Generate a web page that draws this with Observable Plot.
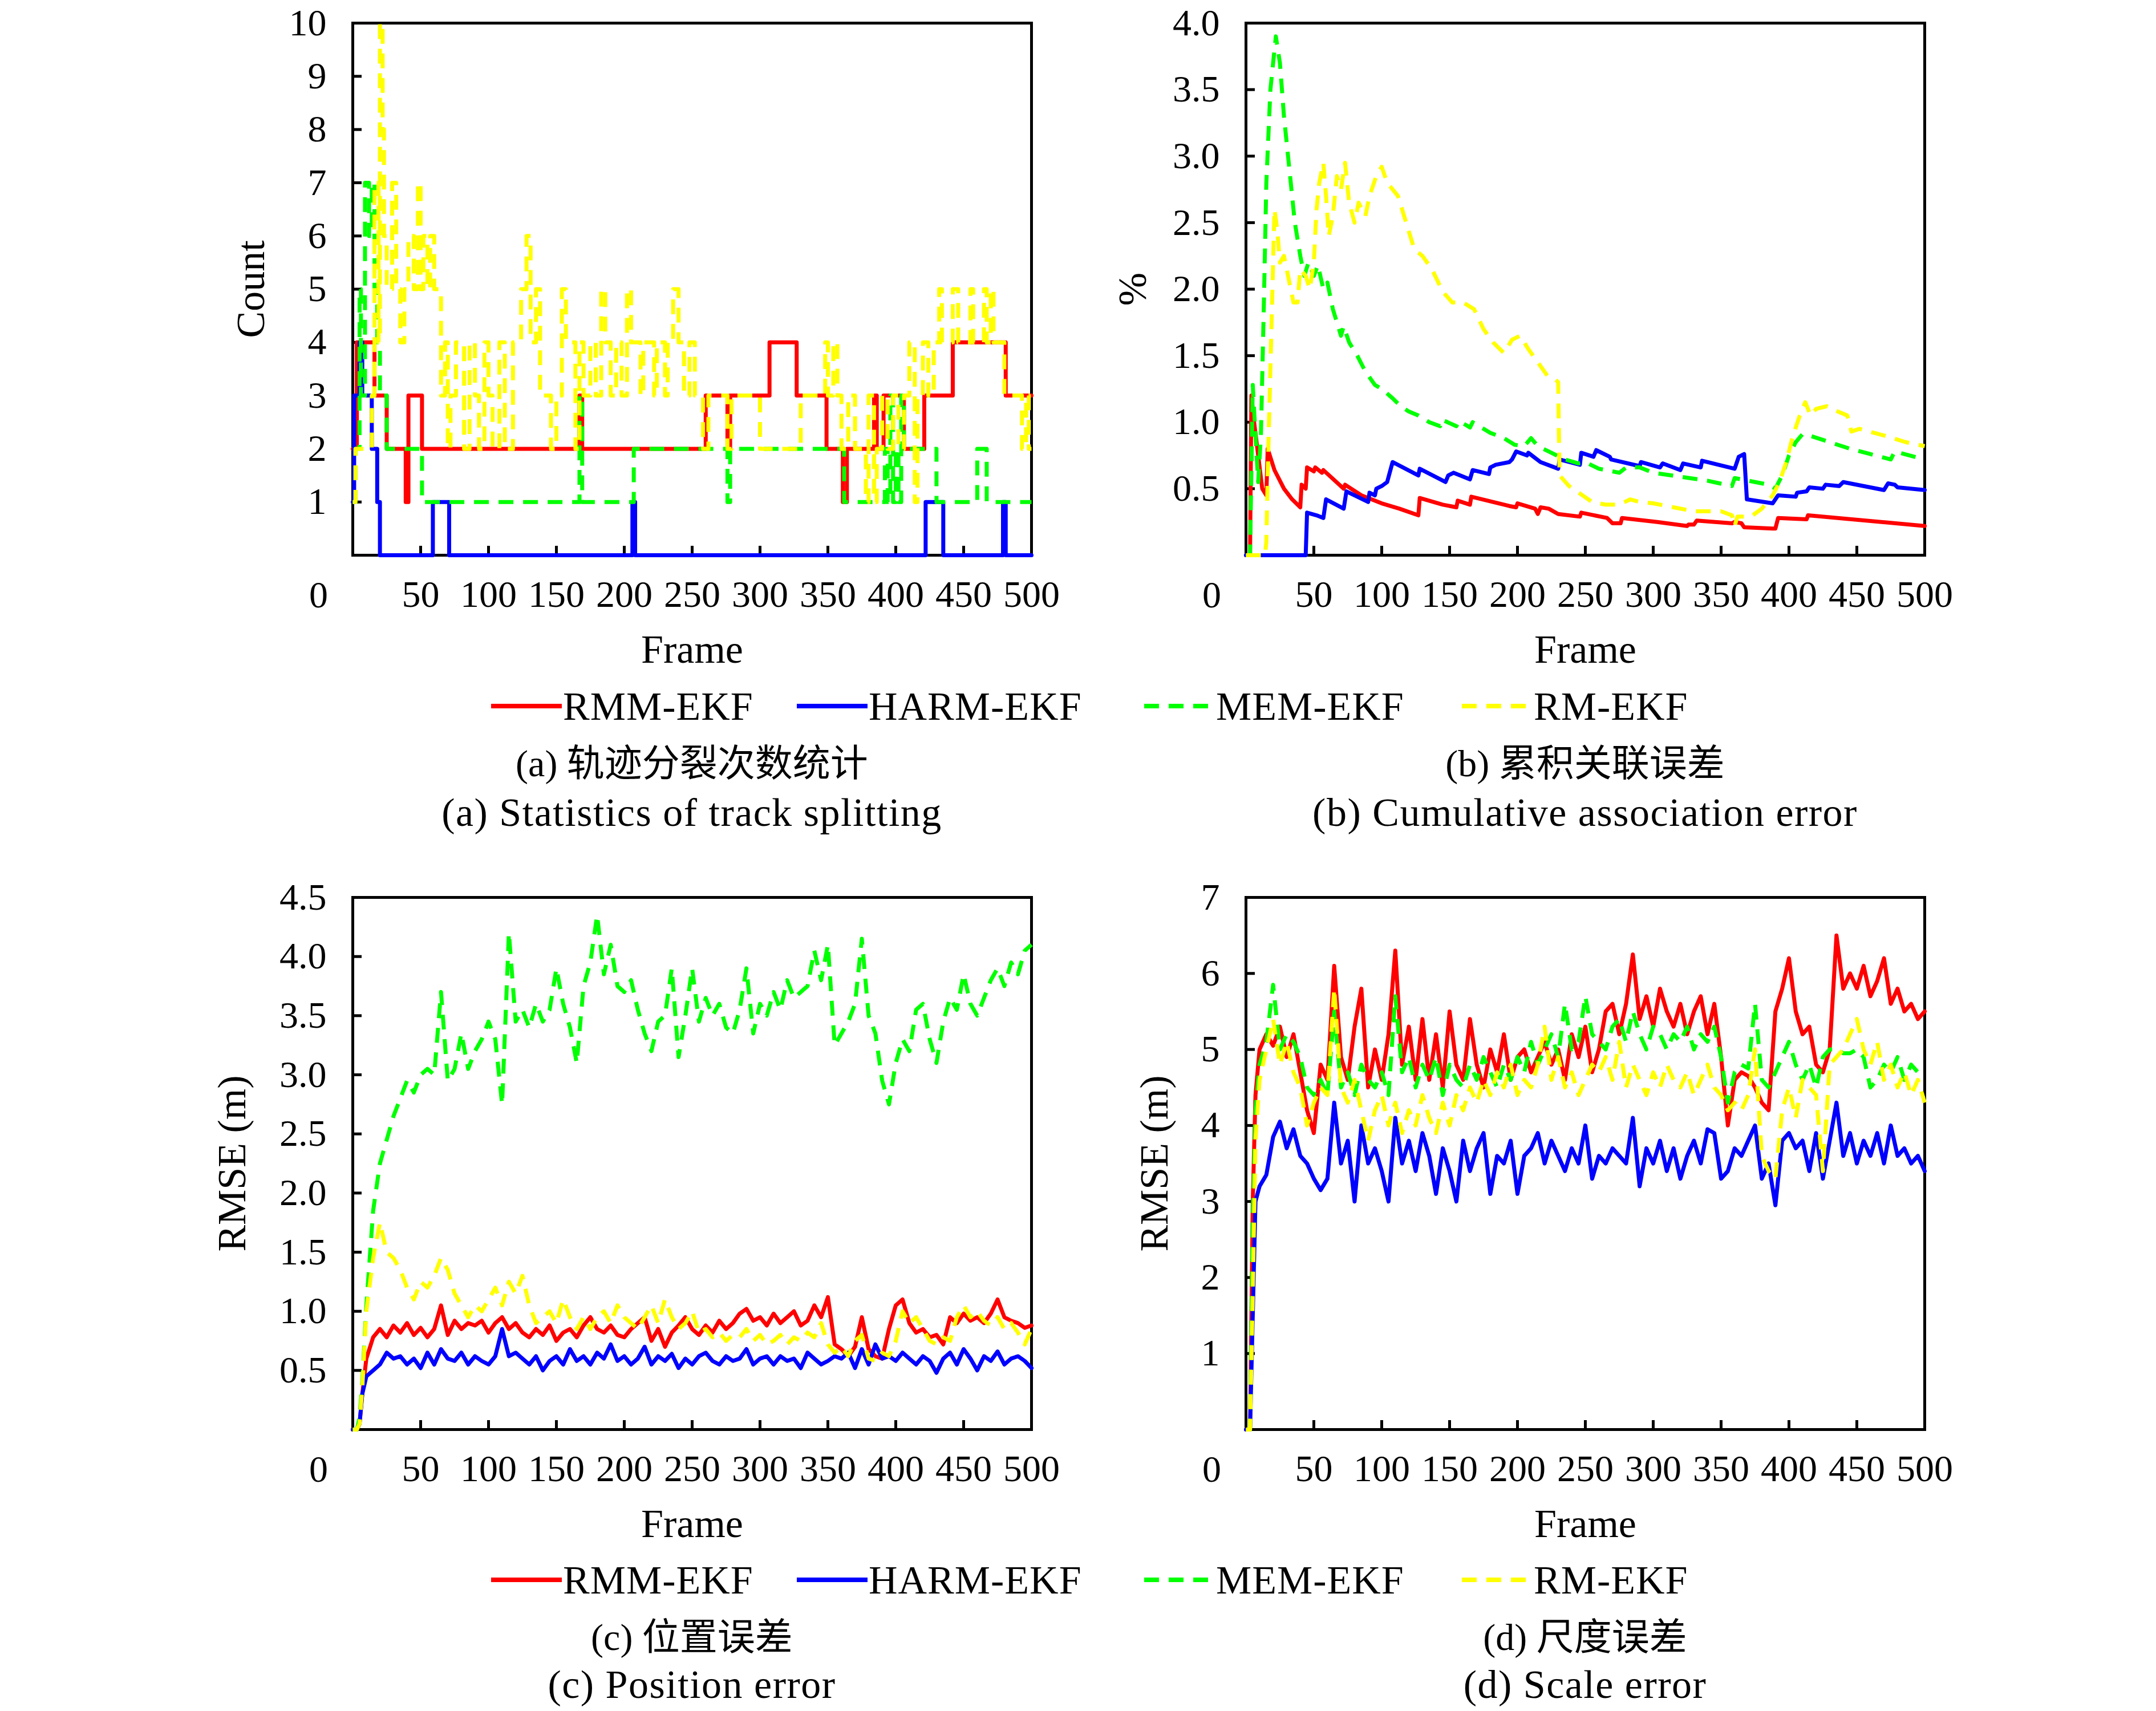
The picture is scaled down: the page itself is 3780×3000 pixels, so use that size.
<!DOCTYPE html>
<html><head><meta charset="utf-8">
<script src="https://cdn.jsdelivr.net/npm/d3@7"></script>
<script src="https://cdn.jsdelivr.net/npm/@observablehq/plot@0.6"></script>
<style>
body{margin:0;background:#fff;}
#root{position:relative;width:3780px;height:3000px;background:#fff;overflow:hidden;}
</style></head><body><div id="root"></div>
<script>
// ---------- series meta ----------
const seriesNames = ["RMM-EKF","HARM-EKF","MEM-EKF","RM-EKF"];
const seriesColors = ["#ff0000","#0000ff","#00ff00","#ffff00"];
const seriesDashed = [false,false,true,true];

// ---------- axes ticks ----------
const xLabels = [50,100,150,200,250,300,350,400,450,500];
const xTickInner = [50,100,150,200,250,300,350,400,450];
const aYLabels = [1,2,3,4,5,6,7,8,9,10];
const aYInner = [1,2,3,4,5,6,7,8,9];
const bYLabels = [0.5,1.0,1.5,2.0,2.5,3.0,3.5,4.0];
const bYInner = [0.5,1.0,1.5,2.0,2.5,3.0,3.5];
const cYLabels = [0.5,1.0,1.5,2.0,2.5,3.0,3.5,4.0,4.5];
const cYInner = [0.5,1.0,1.5,2.0,2.5,3.0,3.5,4.0];
const dYLabels = [1,2,3,4,5,6,7];
const dYInner = [1,2,3,4,5,6];

// ---------- (a) track splitting count: [frame, value] change points ----------
const aRedF = [0,3,16,25,39,41,51,167,169,260,276,278,307,327,349,361,364,384,386,391,406,421,442,481,500];
const aRedV = [2,4,3,2,1,3,2,3,2,3,2,3,4,3,2,1,2,3,2,3,2,3,4,3,3];
const aBlueF = [0,1,5,7,14,18,20,59,71,206,208,422,435,479,481,500];
const aBlueV = [1,3,4,3,2,1,0,1,0,1,0,1,0,1,0,0];
const aGreenF = [0,2,5,6,9,12,14,16,18,20,25,51,167,169,207,276,278,362,392,394,396,398,400,402,404,406,430,460,467,500];
const aGreenV = [1,2,5,3,7,6,7,5,4,3,2,1,3,1,2,1,2,1,2,1,3,1,2,1,3,2,1,2,1,1];
const aYellowF = [0,2,14,16,19,20,22,23,25,29,32,35,38,41,45,48,50,52,55,57,60,65,68,70,72,76,82,86,90,93,97,100,103,108,112,118,124,128,131,135,138,146,150,154,157,164,167,170,175,179,183,186,190,194,198,202,205,212,214,222,224,230,232,236,240,244,248,252,258,262,276,279,300,330,348,350,354,357,360,365,370,378,380,384,386,390,394,398,402,406,410,414,416,420,424,428,432,434,442,446,455,457,465,467,470,472,480,493,496,498,500];
const aYellowV = [1,2,3,7,4,10,8,6,5,7,5,4,5,6,5,7,5,6,5,6,5,3,4,2,3,4,2,4,3,2,4,3,2,4,2,4,5,6,4,5,3,2,3,5,4,2,4,3,4,3,5,4,3,4,3,5,4,3,4,3,4,3,4,5,4,3,4,3,2,3,2,3,2,3,4,3,4,3,2,3,2,1,3,1,2,3,2,3,2,3,4,1,3,4,3,4,5,4,5,4,5,4,5,4,5,4,3,2,3,2,2];

// ---------- (b) cumulative association error (%) ----------
const bRed = [[0,0],[3,0],[4,1.2],[6,1.0],[12,0.5],[15,0.45],[16,0.8],[21,0.64],[28,0.5],[34,0.42],[40,0.36],[41,0.53],[44,0.5],[45,0.66],[50,0.63],[51,0.66],[56,0.62],[57,0.64],[72,0.5],[73,0.53],[85,0.45],[100,0.39],[113,0.35],[127,0.3],[128,0.43],[145,0.38],[155,0.36],[156,0.41],[165,0.38],[166,0.44],[194,0.37],[199,0.36],[200,0.39],[213,0.35],[215,0.31],[217,0.36],[223,0.35],[230,0.31],[246,0.29],[247,0.32],[266,0.28],[270,0.24],[276,0.24],[277,0.28],[303,0.25],[325,0.22],[326,0.23],[330,0.23],[332,0.26],[358,0.24],[360,0.25],[365,0.24],[367,0.21],[388,0.2],[390,0.2],[392,0.28],[413,0.27],[414,0.3],[500,0.22]];
const bBlue = [[0,0],[44,0],[45,0.32],[52,0.3],[57,0.28],[59,0.42],[72,0.35],[74,0.48],[90,0.4],[91,0.47],[95,0.45],[96,0.5],[100,0.52],[104,0.55],[108,0.7],[127,0.6],[128,0.65],[147,0.55],[149,0.6],[153,0.62],[165,0.57],[167,0.64],[179,0.61],[180,0.66],[184,0.68],[194,0.7],[196,0.72],[199,0.78],[207,0.75],[208,0.77],[217,0.7],[230,0.65],[231,0.72],[246,0.68],[247,0.77],[256,0.74],[258,0.79],[268,0.74],[269,0.72],[290,0.67],[291,0.7],[305,0.66],[307,0.69],[320,0.64],[322,0.69],[335,0.66],[336,0.71],[360,0.65],[363,0.74],[367,0.76],[369,0.42],[388,0.39],[392,0.45],[405,0.44],[406,0.47],[413,0.48],[415,0.51],[425,0.5],[427,0.53],[437,0.52],[440,0.55],[470,0.49],[473,0.54],[478,0.53],[480,0.51],[500,0.49]];
const bGreen = [[0,0],[3,0],[5,1.28],[7,0.9],[9,0.55],[11,0.9],[13,1.8],[15,2.8],[18,3.5],[22,3.9],[25,3.7],[28,3.3],[32,2.9],[36,2.5],[40,2.25],[43,2.1],[46,2.2],[50,2.1],[53,2.18],[57,2.0],[60,2.05],[64,1.85],[70,1.65],[72,1.72],[76,1.6],[82,1.5],[88,1.38],[95,1.28],[100,1.25],[108,1.18],[114,1.12],[120,1.08],[127,1.05],[135,1.0],[143,0.97],[144,1.02],[155,0.97],[157,1.01],[165,0.96],[167,1.0],[180,0.92],[190,0.88],[198,0.83],[205,0.82],[210,0.88],[215,0.82],[225,0.77],[235,0.72],[245,0.69],[250,0.7],[260,0.65],[270,0.63],[275,0.62],[280,0.66],[290,0.66],[300,0.62],[320,0.59],[340,0.56],[358,0.52],[360,0.58],[370,0.56],[385,0.53],[390,0.5],[395,0.6],[400,0.75],[405,0.85],[410,0.91],[415,0.9],[430,0.85],[445,0.8],[460,0.76],[475,0.72],[478,0.78],[485,0.76],[500,0.72]];
const bYellow = [[0,0],[14,0],[15,0.1],[16,0.6],[17,1.0],[19,1.8],[21,2.6],[23,2.45],[25,2.2],[28,2.25],[32,2.05],[35,1.9],[38,1.9],[40,2.15],[44,2.1],[47,2.0],[50,2.2],[52,2.6],[54,2.8],[57,2.95],[59,2.7],[61,2.4],[64,2.55],[67,2.85],[70,2.75],[73,2.95],[76,2.65],[80,2.5],[83,2.65],[88,2.55],[91,2.7],[96,2.85],[100,2.92],[104,2.8],[108,2.75],[112,2.7],[118,2.5],[124,2.3],[130,2.25],[137,2.15],[145,1.98],[152,1.9],[160,1.9],[168,1.85],[175,1.7],[182,1.6],[190,1.52],[196,1.62],[202,1.65],[208,1.55],[215,1.45],[222,1.35],[228,1.32],[230,1.3],[231,0.6],[238,0.52],[248,0.45],[255,0.4],[265,0.38],[275,0.38],[283,0.42],[290,0.4],[300,0.39],[315,0.36],[330,0.33],[340,0.33],[350,0.33],[358,0.3],[360,0.22],[362,0.29],[372,0.29],[380,0.35],[388,0.45],[393,0.55],[398,0.7],[403,0.9],[408,1.05],[412,1.15],[416,1.05],[420,1.1],[428,1.12],[436,1.08],[443,1.05],[446,0.93],[452,0.95],[470,0.9],[486,0.85],[500,0.82]];

// ---------- (c),(d) frames shared ----------
const framesCD = [0,3,5,7,10,15,20,25,30,35,40,45,50,55,60,65,70,75,80,85,90,95,100,105,110,115,120,125,130,135,140,145,150,155,160,165,170,175,180,185,190,195,200,205,210,215,220,225,230,235,240,245,250,255,260,265,270,275,280,285,290,295,300,305,310,315,320,325,330,335,340,345,350,355,360,365,370,375,380,385,390,395,400,405,410,415,420,425,430,435,440,445,450,455,460,465,470,475,480,485,490,495,500];

// (c) position error RMSE (m)
const cRed = [0,0,0.05,0.3,
0.6,0.78,0.85,0.78,0.88,0.82,0.9,0.8,0.86,0.78,
0.85,1.05,0.8,0.92,0.85,0.9,0.88,0.92,0.82,0.9,
0.95,0.85,0.9,0.82,0.78,0.85,0.8,0.88,0.75,0.82,
0.85,0.78,0.88,0.95,0.85,0.82,0.88,0.8,0.78,0.85,
0.9,0.95,0.75,0.85,0.7,0.82,0.88,0.95,0.85,0.8,
0.88,0.82,0.92,0.85,0.9,0.98,1.02,0.92,0.95,0.88,
0.98,0.9,0.95,1.0,0.88,0.92,1.05,0.95,1.12,0.72,
0.68,0.62,0.7,0.95,0.68,0.62,0.6,0.85,1.05,1.1,
0.9,0.82,0.85,0.78,0.8,0.72,0.95,0.9,0.98,0.92,
0.95,0.9,0.98,1.1,0.95,0.92,0.9,0.86,0.88];
const cBlue = [0,0,0.05,0.3,
0.45,0.5,0.55,0.65,0.6,0.62,0.55,0.6,0.52,0.65,
0.55,0.68,0.6,0.58,0.65,0.55,0.62,0.58,0.55,0.62,
0.85,0.62,0.65,0.6,0.55,0.62,0.5,0.58,0.62,0.55,
0.68,0.58,0.62,0.55,0.65,0.6,0.72,0.58,0.62,0.55,
0.6,0.7,0.55,0.62,0.58,0.64,0.52,0.6,0.55,0.62,
0.65,0.58,0.55,0.62,0.58,0.6,0.68,0.55,0.6,0.62,
0.55,0.62,0.58,0.6,0.52,0.65,0.6,0.55,0.58,0.62,
0.6,0.65,0.52,0.68,0.55,0.72,0.6,0.62,0.58,0.65,
0.6,0.55,0.62,0.58,0.48,0.6,0.65,0.55,0.68,0.6,
0.5,0.62,0.58,0.66,0.55,0.6,0.62,0.58,0.52];
const cGreen = [0,0,0.1,0.4,
1.05,1.85,2.25,2.45,2.65,2.8,2.95,2.85,3.0,3.05,
3.0,3.7,2.95,3.05,3.35,3.05,3.2,3.3,3.45,3.3,
2.75,4.2,3.45,3.55,3.4,3.6,3.45,3.55,3.9,3.6,
3.4,3.1,3.75,3.95,4.35,3.85,4.1,3.75,3.7,3.8,
3.55,3.35,3.2,3.45,3.5,3.9,3.15,3.5,3.9,3.45,
3.65,3.5,3.6,3.4,3.35,3.55,3.9,3.35,3.6,3.5,
3.7,3.55,3.8,3.65,3.7,3.75,4.05,3.8,4.1,3.25,
3.35,3.45,3.6,4.15,3.5,3.35,2.95,2.75,3.1,3.3,
3.2,3.55,3.6,3.3,3.1,3.45,3.65,3.55,3.85,3.6,
3.5,3.65,3.8,3.9,3.75,3.95,3.85,4.05,4.1];
const cYellow = [0,0,0.05,0.35,
1.0,1.45,1.75,1.5,1.45,1.35,1.2,1.1,1.25,1.2,
1.3,1.45,1.35,1.15,1.05,0.95,1.05,1.0,1.1,1.2,
1.05,1.25,1.15,1.3,1.05,0.9,0.95,1.0,0.9,1.1,
0.95,0.85,0.95,0.85,0.95,1.0,0.9,1.05,0.95,0.9,
0.85,0.95,1.05,0.9,1.1,0.95,0.85,0.9,1.0,0.82,
0.85,0.78,0.82,0.75,0.8,0.78,0.85,0.75,0.8,0.72,
0.75,0.8,0.72,0.78,0.75,0.82,0.78,0.9,0.72,0.65,
0.7,0.62,0.75,0.8,0.6,0.58,0.65,0.62,0.75,1.0,
0.9,0.95,0.85,0.75,0.72,0.78,0.75,0.95,1.05,0.95,
1.0,0.92,0.88,0.95,0.85,0.9,0.82,0.72,0.85];

// (d) scale error RMSE (m)
const dRed = [0,0,3.0,4.4,
5.0,5.2,5.05,5.3,4.9,5.2,4.7,4.2,3.9,4.8,
4.6,6.1,4.9,4.6,5.3,5.8,4.5,5.0,4.6,5.2,
6.3,4.8,5.3,4.6,5.4,4.6,5.2,4.5,5.5,4.8,
4.6,5.4,4.8,4.5,5.0,4.7,5.2,4.6,4.9,5.0,
4.7,4.9,5.1,4.8,5.0,4.6,5.2,4.9,5.3,4.7,
5.0,5.5,5.6,5.2,5.6,6.25,5.4,5.7,5.3,5.8,
5.5,5.3,5.6,5.2,5.5,5.7,5.2,5.6,4.9,4.0,
4.6,4.7,4.65,4.5,4.3,4.2,5.5,5.8,6.2,5.5,
5.2,5.3,4.8,4.7,5.0,6.5,5.8,6.0,5.8,6.1,
5.7,5.9,6.2,5.6,5.8,5.5,5.6,5.4,5.5];
const dBlue = [0,0,1.5,3.0,
3.2,3.35,3.85,4.05,3.7,3.95,3.6,3.5,3.3,3.15,
3.3,4.3,3.5,3.8,3.0,4.0,3.5,3.7,3.4,3.0,
4.1,3.5,3.8,3.4,3.9,3.6,3.1,3.7,3.4,3.0,
3.8,3.4,3.7,3.9,3.1,3.6,3.5,3.8,3.1,3.6,
3.7,3.9,3.5,3.8,3.6,3.4,3.7,3.5,4.0,3.3,
3.6,3.5,3.7,3.6,3.5,4.1,3.2,3.7,3.5,3.8,
3.4,3.7,3.3,3.6,3.8,3.5,3.95,3.9,3.3,3.4,
3.7,3.6,3.8,4.0,3.3,3.5,2.95,3.8,3.9,3.7,
3.8,3.4,3.9,3.3,3.8,4.3,3.6,3.9,3.5,3.8,
3.6,3.9,3.5,4.0,3.6,3.7,3.5,3.6,3.4];
const dGreen = [0,0,2.8,4.2,
4.8,5.1,5.85,5.0,5.2,5.1,4.9,4.5,4.4,4.6,
4.4,5.5,4.5,4.7,4.4,4.8,4.6,4.5,4.7,4.4,
5.7,4.7,4.9,4.5,4.8,4.6,4.9,4.4,4.8,4.6,
4.5,4.8,4.6,4.9,4.7,4.5,4.8,4.6,4.9,4.7,
5.1,4.8,5.0,5.2,4.9,5.6,5.0,5.1,5.7,5.2,
5.1,5.0,5.3,5.4,5.1,5.5,5.2,5.0,5.3,5.2,
5.0,5.2,5.1,5.3,5.0,5.2,5.1,5.3,4.9,4.3,
4.7,4.8,4.75,5.6,4.6,4.5,4.7,4.9,5.1,4.8,
4.6,4.8,4.5,4.9,5.0,5.0,4.95,4.95,5.0,4.9,
4.5,4.6,4.8,4.7,4.9,4.6,4.8,4.7,4.75];
const dYellow = [0,0,1.8,3.8,
4.6,5.0,5.4,4.8,5.1,4.7,4.5,4.0,4.3,4.5,
4.4,5.8,4.5,4.3,4.6,4.2,3.8,4.2,4.4,4.0,
4.3,3.9,4.2,4.0,4.4,4.1,3.9,4.3,4.0,4.4,
4.2,4.5,4.3,4.6,4.4,4.7,4.5,4.8,4.4,4.6,
4.5,4.8,5.3,4.6,4.9,4.5,4.7,4.4,4.6,4.8,
4.7,4.9,4.6,5.1,4.5,4.8,4.6,4.4,4.7,4.5,
4.8,4.6,4.5,4.7,4.4,4.6,4.8,4.5,4.4,4.2,
4.3,4.2,4.4,5.0,3.6,3.4,3.3,4.2,4.5,4.1,
4.6,4.5,4.4,3.4,4.8,4.9,5.0,5.2,5.4,5.0,
4.8,5.1,4.6,4.8,4.5,4.7,4.4,4.6,4.3];

// ---------- text ----------
const captions = {
  a: ["(a) 轨迹分裂次数统计", "(a) Statistics of track splitting"],
  b: ["(b) 累积关联误差", "(b) Cumulative association error"],
  c: ["(c) 位置误差", "(c) Position error"],
  d: ["(d) 尺度误差", "(d) Scale error"]
};

// ---------- build ----------
const zip = (F, V) => F.map((f, i) => [f, V[i]]);
const FONT = '"Liberation Serif", "Noto Sans CJK SC", serif';
const FS = 66, FS2 = 70;
const PW = 1190, PH = 933, ML = 330, MR = 60, MT = 80, MB = 220;
const root = document.getElementById("root");

function panel({left, top, series, ymax, yInner, yLabels, yFmt, ylabel, ylabelDx, curve}) {
  const marks = [
    Plot.frame({stroke: "black", strokeWidth: 5}),
    Plot.tickY(yInner, {y: d => d, stroke: "black", strokeWidth: 5, insetRight: PW - 16}),
    Plot.tickX(xTickInner, {x: d => d, stroke: "black", strokeWidth: 5, insetTop: PH - 16})
  ];
  series.forEach((s, i) => {
    marks.push(Plot.line(s, {
      x: d => d[0], y: d => d[1], stroke: seriesColors[i], strokeWidth: 7,
      strokeDasharray: seriesDashed[i] ? "26,17" : null,
      strokeLinecap: seriesDashed[i] ? "butt" : "round",
      strokeLinejoin: "round", curve
    }));
  });
  marks.push(Plot.axisY({ticks: yLabels, tickSize: 0, tickPadding: 46, tickFormat: yFmt, fontSize: FS, label: null}));
  marks.push(Plot.axisX({ticks: xLabels, tickSize: 0, tickPadding: 44, tickFormat: d => String(d), fontSize: FS, label: null}));
  marks.push(Plot.text(["0"], {x: [0], y: [0], text: d => d, dx: -60, dy: 70, fontSize: FS}));
  marks.push(Plot.text([ylabel], {frameAnchor: "left", textAnchor: "middle", rotate: -90, dx: ylabelDx, text: d => d, fontSize: FS2}));
  marks.push(Plot.text(["Frame"], {frameAnchor: "bottom", dy: 188, text: d => d, fontSize: FS2}));
  const svg = Plot.plot({
    width: ML + PW + MR, height: MT + PH + MB,
    marginLeft: ML, marginRight: MR, marginTop: MT, marginBottom: MB,
    x: {domain: [0, 500], label: null},
    y: {domain: [0, ymax], label: null},
    style: {fontFamily: FONT, fontSize: FS + "px", background: "transparent", overflow: "visible", color: "black"},
    marks
  });
  svg.style.position = "absolute";
  svg.style.left = (left - ML) + "px";
  svg.style.top = (top - MT) + "px";
  svg.style.maxWidth = "none";
  root.appendChild(svg);
}

const fmt1 = d3.format(".1f");
const fmt0 = d => String(d);
const L1 = 618, L2 = 2184, T1 = 40, T2 = 1573;

panel({left: L1, top: T1, ymax: 10, yInner: aYInner, yLabels: aYLabels, yFmt: fmt0, ylabel: "Count", ylabelDx: -178, curve: "step-after",
  series: [zip(aRedF, aRedV), zip(aBlueF, aBlueV), zip(aGreenF, aGreenV), zip(aYellowF, aYellowV)]});
panel({left: L2, top: T1, ymax: 4, yInner: bYInner, yLabels: bYLabels, yFmt: fmt1, ylabel: "%", ylabelDx: -198, curve: "linear",
  series: [bRed, bBlue, bGreen, bYellow]});
panel({left: L1, top: T2, ymax: 4.5, yInner: cYInner, yLabels: cYLabels, yFmt: fmt1, ylabel: "RMSE (m)", ylabelDx: -211, curve: "linear",
  series: [zip(framesCD, cRed), zip(framesCD, cBlue), zip(framesCD, cGreen), zip(framesCD, cYellow)]});
panel({left: L2, top: T2, ymax: 7, yInner: dYInner, yLabels: dYLabels, yFmt: fmt0, ylabel: "RMSE (m)", ylabelDx: -160, curve: "linear",
  series: [zip(framesCD, dRed), zip(framesCD, dBlue), zip(framesCD, dGreen), zip(framesCD, dYellow)]});

// ---------- legends & captions ----------
const overlay = d3.select(root).append("svg")
  .attr("width", 3780).attr("height", 3000)
  .style("position", "absolute").style("left", "0px").style("top", "0px")
  .style("font-family", FONT).style("font-size", FS2 + "px");

const legendX = [861, 1397, 2006, 2563];
[1238, 2770].forEach(ly => {
  seriesNames.forEach((name, i) => {
    overlay.append("line")
      .attr("x1", legendX[i]).attr("x2", legendX[i] + 124)
      .attr("y1", ly).attr("y2", ly)
      .attr("stroke", seriesColors[i]).attr("stroke-width", 8)
      .attr("stroke-dasharray", seriesDashed[i] ? "26,17" : null);
    overlay.append("text")
      .attr("x", legendX[i] + 126).attr("y", ly)
      .attr("dominant-baseline", "central")
      .attr("letter-spacing", "1px")
      .text(name);
  });
});

const capRows = [
  {keys: ["a", "b"], y1: 1338, y2: 1424},
  {keys: ["c", "d"], y1: 2870, y2: 2953}
];
const capX = [L1 + PW / 2, L2 + PW / 2];
capRows.forEach(r => {
  r.keys.forEach((k, j) => {
    overlay.append("text").attr("x", capX[j]).attr("y", r.y1)
      .attr("text-anchor", "middle").attr("dominant-baseline", "central")
      .style("font-size", FS + "px").text(captions[k][0]);
    overlay.append("text").attr("x", capX[j]).attr("y", r.y2)
      .attr("text-anchor", "middle").attr("dominant-baseline", "central")
      .attr("letter-spacing", "1.5px").text(captions[k][1]);
  });
});
</script></body></html>
